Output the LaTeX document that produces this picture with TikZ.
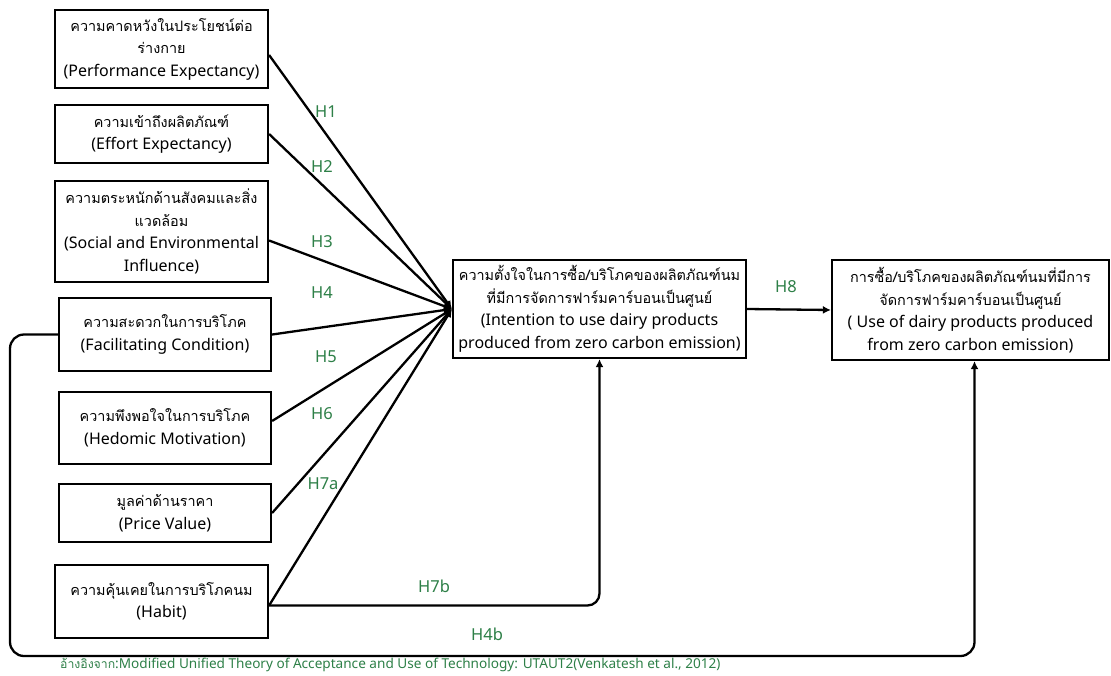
\documentclass[tikz,border=0pt]{standalone}
\usepackage{fontspec}
\setmainfont{Noto Sans}
\newfontfamily\thaifont[Script=Thai,Scale=0.9]{Loma}
\usetikzlibrary{arrows.meta}
\definecolor{hgreen}{RGB}{46,128,72}
\begin{document}
\begin{tikzpicture}[x=1pt,y=-1pt,
  box/.style={draw=black,line width=2.2pt,rectangle,align=center,inner sep=2pt,
    font=\fontsize{16}{22.5}\selectfont},
  link/.style={line width=2.3pt,draw=black},
  tip/.style={link,-{Latex[length=8pt,width=8pt]}},
  hlabel/.style={text=hgreen,font=\fontsize{16.5}{18}\selectfont}]
  \fill[white] (0,0) rectangle (1111,675);
  \useasboundingbox (0,0) rectangle (1111,675);

  % constructs on the left
  \node[box,minimum width=213pt,minimum height=78pt] (b1) at (161.5,49)
    {{\thaifont ความคาดหวังในประโยชน์ต่อ}\\{\thaifont ร่างกาย}\\(Performance Expectancy)};
  \node[box,minimum width=213pt,minimum height=58pt] (b2) at (161.5,134)
    {{\thaifont ความเข้าถึงผลิตภัณฑ์}\\(Effort Expectancy)};
  \node[box,minimum width=213pt,minimum height=101pt] (b3) at (161.5,231.5)
    {{\thaifont ความตระหนักด้านสังคมและสิ่ง}\\{\thaifont แวดล้อม}\\(Social and Environmental\\Influence)};
  \node[box,minimum width=212pt,minimum height=73pt] (b4) at (165,334.5)
    {{\thaifont ความสะดวกในการบริโภค}\\(Facilitating Condition)};
  \node[box,minimum width=212pt,minimum height=72pt] (b5) at (165,428)
    {{\thaifont ความพึงพอใจในการบริโภค}\\(Hedomic Motivation)};
  \node[box,minimum width=212pt,minimum height=58pt] (b6) at (165,513)
    {{\thaifont มูลค่าด้านราคา}\\(Price Value)};
  \node[box,minimum width=213pt,minimum height=73pt] (b7) at (161.5,601.5)
    {{\thaifont ความคุ้นเคยในการบริโภคนม}\\(Habit)};

  % intention and use
  \node[box,minimum width=293pt,minimum height=98pt] (cent) at (599.5,309)
    {{\thaifont ความตั้งใจในการซื้อ/บริโภคของผลิตภัณฑ์นม}\\{\thaifont ที่มีการจัดการฟาร์มคาร์บอนเป็นศูนย์}\\(Intention to use dairy products\\produced from zero carbon emission)};
  \node[box,minimum width=277pt,minimum height=100pt] (use) at (970.5,310)
    {{\thaifont การซื้อ/บริโภคของผลิตภัณฑ์นมที่มีการ}\\{\thaifont จัดการฟาร์มคาร์บอนเป็นศูนย์}\\( Use of dairy products produced\\from zero carbon emission)};

  % paths into intention
  \draw[tip] ([yshift=-6pt]b1.east) -- (cent.west);
  \draw[tip] (b2.east) -- (cent.west);
  \draw[tip] ([yshift=-9pt]b3.east) -- (cent.west);
  \draw[tip] (b4.east) -- (cent.west);
  \draw[tip] ([yshift=7pt]b5.east) -- (cent.west);
  \draw[tip] (b6.east) -- (cent.west);
  \draw[tip] ([yshift=-4pt]b7.east) -- (cent.west);
  \draw[tip,rounded corners=12pt] ([yshift=-4pt]b7.east) -| (cent.south);
  \draw[tip] (cent.east) -- (use.west);

  % facilitating condition to use
  \coordinate (loopleft) at (10,656);
  \draw[tip,rounded corners=14pt] (b4.west) -| (loopleft) -| ([xshift=4pt]use.south);

  % hypothesis labels
  \node[hlabel] (h1) at (326,112) {H1};
  \node[hlabel] (h2) at (322,167) {H2};
  \node[hlabel] (h3) at (322,242) {H3};
  \node[hlabel] (h4) at (322,293) {H4};
  \node[hlabel] (h5) at (326,357) {H5};
  \node[hlabel] (h6) at (322,414) {H6};
  \node[hlabel] (h7a) at (323,484) {H7a};
  \node[hlabel] (h7b) at (434,586) {H7b};
  \node[hlabel] (h4b) at (487,634) {H4b};
  \node[hlabel] (h8) at (786,287) {H8};

  % source note
  \node[anchor=west,text=hgreen,font=\fontsize{13.6}{16}\selectfont,inner sep=0pt] (src) at (60,665)
    {{\thaifont อ้างอิงจาก}:Modified Unified Theory of Acceptance and Use of Technology: UTAUT2(Venkatesh et al., 2012)};
\end{tikzpicture}
\end{document}
